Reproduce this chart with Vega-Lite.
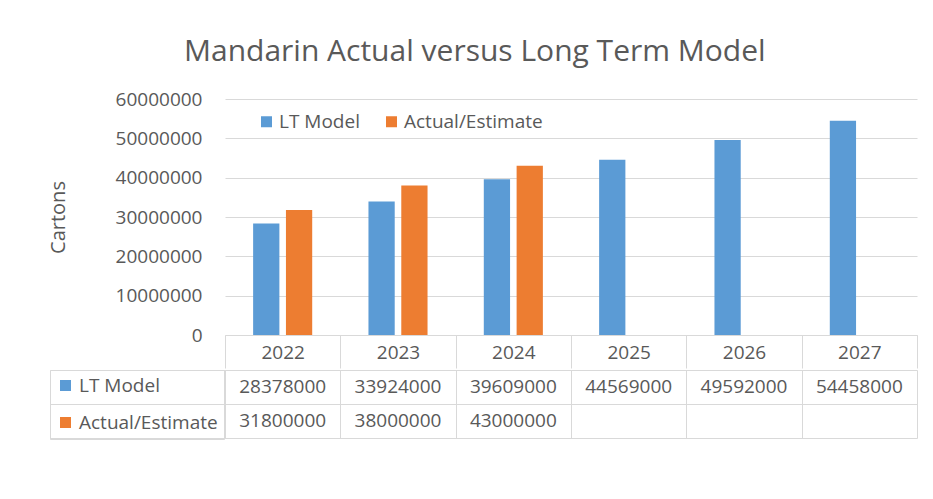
{
  "$schema": "https://vega.github.io/schema/vega-lite/v6.json",
  "padding": {"left": 48, "top": 37, "right": 14, "bottom": 5},
  "background": "white",
  "title": {"text": "Mandarin Actual versus Long Term Model", "fontSize": 30, "font": "Open Sans", "fontWeight": "normal", "color": "#595959", "anchor": "middle", "offset": 23, "dx": -8},
  "datasets": {
    "values": [
      {"year": "2022", "series": "LT Model", "value": 28378000},
      {"year": "2023", "series": "LT Model", "value": 33924000},
      {"year": "2024", "series": "LT Model", "value": 39609000},
      {"year": "2025", "series": "LT Model", "value": 44569000},
      {"year": "2026", "series": "LT Model", "value": 49592000},
      {"year": "2027", "series": "LT Model", "value": 54458000},
      {"year": "2022", "series": "Actual/Estimate", "value": 31800000},
      {"year": "2023", "series": "Actual/Estimate", "value": 38000000},
      {"year": "2024", "series": "Actual/Estimate", "value": 43000000}
    ]
  },
  "spacing": 0,
  "resolve": {"scale": {"color": "independent"}, "legend": {"color": "independent"}},
  "vconcat": [
    {
      "width": 692,
      "height": 236,
      "data": {"name": "values"},
      "mark": {"type": "bar"},
      "encoding": {
        "x": {
          "field": "year", "type": "nominal",
          "scale": {"domain": ["2022", "2023", "2024", "2025", "2026", "2027"], "paddingInner": 0, "paddingOuter": 0},
          "axis": {"title": null, "labelAngle": 0, "tickBand": "extent", "tickSize": 33, "tickColor": "#d9d9d9", "domainColor": "#d9d9d9", "labelPadding": -16, "labelBaseline": "middle", "grid": false}
        },
        "xOffset": {
          "field": "series", "type": "nominal",
          "scale": {"domain": ["LT Model", "Actual/Estimate"], "paddingInner": 0.2, "paddingOuter": 0.857}
        },
        "y": {
          "field": "value", "type": "quantitative",
          "scale": {"domain": [0, 60000000]},
          "axis": {"title": "Cartons", "values": [0, 10000000, 20000000, 30000000, 40000000, 50000000, 60000000], "format": "d", "ticks": false, "domain": false, "gridColor": "#d9d9d9", "labelPadding": 23, "titlePadding": 47, "titleFontSize": 20, "titleFontWeight": "normal"}
        },
        "color": {
          "field": "series", "type": "nominal",
          "scale": {"domain": ["LT Model", "Actual/Estimate"], "range": ["#5B9BD5", "#ED7D31"]},
          "legend": {"orient": "none", "direction": "horizontal", "legendX": 32, "legendY": 13, "title": null, "symbolType": "square", "symbolSize": 121, "columnPadding": 22, "labelOffset": 3, "padding": 0}
        }
      }
    },
    {
      "width": 692,
      "height": 68,
      "data": {"name": "values"},
      "encoding": {
        "x": {
          "field": "year", "type": "nominal",
          "scale": {"domain": ["2022", "2023", "2024", "2025", "2026", "2027"], "paddingInner": 0, "paddingOuter": 0},
          "axis": {"title": null, "labels": false, "ticks": false, "domain": false, "grid": true, "tickBand": "extent", "gridColor": "#d9d9d9"}
        },
        "y": {
          "field": "series", "type": "nominal",
          "scale": {"domain": ["LT Model", "Actual/Estimate"], "paddingInner": 0, "paddingOuter": 0},
          "axis": {"title": null, "labels": false, "ticks": true, "tickSize": 175, "tickBand": "extent", "tickColor": "#d9d9d9", "domain": true, "domainColor": "#d9d9d9", "grid": true, "gridColor": "#d9d9d9"}
        }
      },
      "layer": [
        {
          "mark": {"type": "text", "fontSize": 19, "color": "#595959", "font": "Open Sans"},
          "encoding": {
            "text": {"field": "value", "type": "quantitative", "format": "d"}
          }
        },
        {
          "transform": [{"filter": "false"}],
          "mark": {"type": "point", "filled": true, "opacity": 1, "shape": "square"},
          "encoding": {
            "color": {
              "field": "series", "type": "nominal",
              "scale": {"domain": ["LT Model", "Actual/Estimate"], "range": ["#5B9BD5", "#ED7D31"]},
              "legend": {"orient": "none", "direction": "vertical", "legendX": -175, "legendY": 0, "title": null, "symbolType": "square", "symbolSize": 121, "labelOffset": 4, "padding": 6, "rowPadding": 17, "strokeColor": "#d9d9d9"}
            }
          }
        }
      ]
    }
  ],
  "config": {
    "view": {"stroke": null},
    "font": "Open Sans",
    "axis": {"labelColor": "#595959", "labelFontSize": 19, "titleColor": "#595959", "labelFont": "Open Sans", "titleFont": "Open Sans"},
    "legend": {"labelColor": "#595959", "labelFontSize": 19, "labelFont": "Open Sans"}
  }
}
